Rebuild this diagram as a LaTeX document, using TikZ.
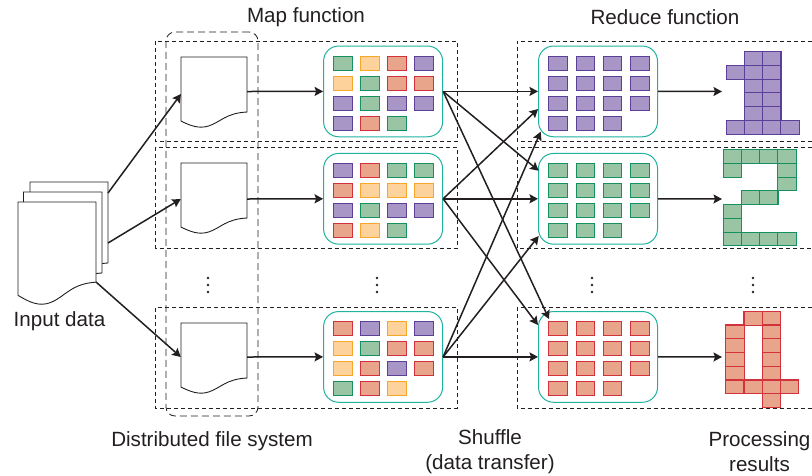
\documentclass[tikz,border=0pt]{standalone}
\usepackage{fontspec}
\setmainfont{Liberation Sans}
\usepackage{tikz}
\usetikzlibrary{arrows.meta,positioning}
\definecolor{inkdark}{HTML}{231F20}
\definecolor{boxteal}{HTML}{1FB3A0}
\definecolor{greenline}{HTML}{17905F}
\definecolor{greenfill}{HTML}{9AC5A5}
\definecolor{orangeline}{HTML}{F9A72B}
\definecolor{orangefill}{HTML}{FDD29B}
\definecolor{redline}{HTML}{D2323C}
\definecolor{redfill}{HTML}{E9A48C}
\definecolor{purpleline}{HTML}{5B3F98}
\definecolor{purplefill}{HTML}{A896C6}
\tikzset{
	lbl/.style = {align=center, inner sep=0pt, text=inkdark,
		font=\fontsize{20.6}{25}\selectfont},
	docline/.style = {draw=inkdark, fill=white, line width=0.9pt},
	docbox/.style = {inner sep=0pt, minimum width=66pt, minimum height=70pt},% holds the anchors of a file
	tealbox/.style = {draw=boxteal, fill=white, line width=1pt, rounded corners=15pt,
		minimum width=119pt, minimum height=90.7pt, inner sep=0pt},
	rowframe/.style = {draw=inkdark, line width=0.8pt, dash pattern=on 4pt off 3pt},
	dfsframe/.style = {draw=inkdark, line width=0.8pt, dash pattern=on 7pt off 4pt,
		rounded corners=9pt, minimum width=92pt, minimum height=384pt, inner sep=0pt},
	flow/.style = {-{Stealth[length=8.5pt,width=9pt,inset=1.5pt]}, draw=inkdark, line width=1.5pt},
	cellbox/.style = {anchor=north west, inner sep=0pt, line width=1.1pt,
		minimum width=18.4pt, minimum height=14pt},
	cellG/.style = {cellbox, draw=greenline, fill=greenfill},
	cellO/.style = {cellbox, draw=orangeline, fill=orangefill},
	cellR/.style = {cellbox, draw=redline, fill=redfill},
	cellP/.style = {cellbox, draw=purpleline, fill=purplefill},
	digitcell/.style = {minimum width=18.2pt, minimum height=13.85pt}
}
% file outline: left, top, width, height
\newcommand{\wavedoc}[4]{
	\begin{scope}[shift={(#1,#2)}, x=#3pt, y=-#4pt]
	\draw[docline] (0,0) -- (1,0) -- (1,.786) .. controls (.68,.8) and (.6,.93) .. (.42,.985)
		.. controls (.27,1.03) and (.14,.98) .. (0,.915) -- cycle;
	\end{scope}
}
% grid of cells, four in a line: name, left, top, column step, colours
\newcommand{\cellgrid}[5]{
	\foreach \cname [count=\ci from 0] in {#5} {
		\pgfmathtruncatemacro{\cc}{mod(\ci,4)}
		\pgfmathtruncatemacro{\rr}{div(\ci,4)}
		\node[cell\cname] (#1-\ci) at (#2+\cc*#4,#3+\rr*20) {};
	}
}
% digit made of cells: name, left, top, colour, column/row list
\newcommand{\digitgrid}[5]{
	\foreach \cc/\rr in {#5} {
		\node[cell#4, digitcell] (#1-\cc-\rr) at (#2+\cc*18.1,#3+\rr*13.75) {};
	}
}

\begin{document}
\begin{tikzpicture}[x=1pt,y=-1pt]
\useasboundingbox (0,0) rectangle (812,475);

% dashed frames
\foreach \ytop/\ybot in {41/141.5,147/248,307.5/408} {
	\draw[rowframe] (155.5,\ytop) rectangle (457,\ybot);
	\draw[rowframe] (812,\ytop) -- (517,\ytop) -- (517,\ybot) -- (812,\ybot);
}
\node[dfsframe] (dfs) at (212,224) {};

% input data
\wavedoc{30}{182}{78}{103}
\wavedoc{23.5}{192}{78.5}{103}
\wavedoc{18}{202}{78}{102}
\node[lbl] (inputlbl) at (59.5,321) {Input data};
\coordinate (inA) at (108,193);
\coordinate (inB) at (108,243);
\coordinate (inC) at (96,282);

% files
\foreach \n/\ytop/\ymid in {1/57/91.5,2/163/199,3/323/357} {
	\wavedoc{181}{\ytop}{66}{70}
	\node[docbox] (doc\n) at (214,\ymid) {};
}
\coordinate (docA) at (181,94);

% map and reduce boxes
\foreach \n/\ymid in {1/91.4,2/198.8,3/356.9} {
	\node[tealbox] (map\n) at (383.1,\ymid) {};
	\node[tealbox] (red\n) at (598,\ymid) {};
}
\cellgrid{mapa}{333.3}{56}{27}{G,O,R,P,O,G,R,R,P,G,P,P,P,R,G}
\cellgrid{mapb}{333.3}{163.3}{27}{P,R,G,G,R,O,O,O,P,G,P,P,R,O,G}
\cellgrid{mapc}{333.3}{321.3}{27}{R,P,O,P,O,G,R,R,O,R,P,R,G,R,O}
\cellgrid{reda}{548.2}{56}{27.3}{P,P,P,P,P,P,P,P,P,P,P,P,P,P,P}
\cellgrid{redb}{548.2}{163.3}{27.3}{G,G,G,G,G,G,G,G,G,G,G,G,G,G,G}
\cellgrid{redc}{548.2}{321.3}{27.3}{R,R,R,R,R,R,R,R,R,R,R,R,R,R,R}

% results
\digitgrid{resa}{726}{51}{P}{1/0,2/0,0/1,1/1,2/1,1/2,2/2,1/3,2/3,1/4,2/4,0/5,1/5,2/5,3/5}
\digitgrid{resb}{723}{149}{G}{0/0,1/0,2/0,3/0,0/1,3/1,3/2,1/3,2/3,0/4,0/5,0/6,1/6,2/6,3/6}
\digitgrid{resc}{725.3}{310.7}{R}{1/0,2/0,0/1,2/1,0/2,2/2,0/3,2/3,0/4,2/4,0/5,1/5,2/5,3/5,2/6}
\coordinate (outa) at (722,91.5);
\coordinate (outb) at (722,199);
\coordinate (outc) at (722,357);

% dots between the rows
\foreach \xd in {208,377,592,753}
	\foreach \yd in {278,285,292}
		\fill[inkdark] (\xd,\yd) circle (1.3pt);

% arrow ends on the reduce side
\coordinate (tipab) at (538.7,170.7);
\coordinate (tipac) at (549,319);
\coordinate (tipba) at (538,109);
\coordinate (tipbc) at (538,325);
\coordinate (tipca) at (540.7,131.7);
\coordinate (tipcb) at (538.7,236);

\draw[flow] (inA) -- (docA);
\draw[flow] (inB) -- (doc2.west);
\draw[flow] (inC) -- (doc3.west);
\foreach \n/\m in {1/a,2/b,3/c} {
	\draw[flow] (doc\n.east) -- (map\n.west);
	\draw[flow] (map\n.east) -- (red\n.west);
	\draw[flow] (red\n.east) -- (out\m);
}
\foreach \from/\to in {map1/tipab,map1/tipac,map2/tipba,map2/tipbc,map3/tipca,map3/tipcb}
	\draw[flow] (\from.east) -- (\to);

% labels
\node[lbl] (maplbl) at (306,17) {Map function};
\node[lbl] (redlbl) at (665,17) {Reduce function};
\node[lbl] (dfslbl) at (212,441) {Distributed file system};
\node[lbl] (shufflelbl) at (490,451.5) {Shuffle\\(data transfer)};
\node[lbl] (resultlbl) at (759.5,451.5) {Processing\\results};
\end{tikzpicture}
\end{document}
